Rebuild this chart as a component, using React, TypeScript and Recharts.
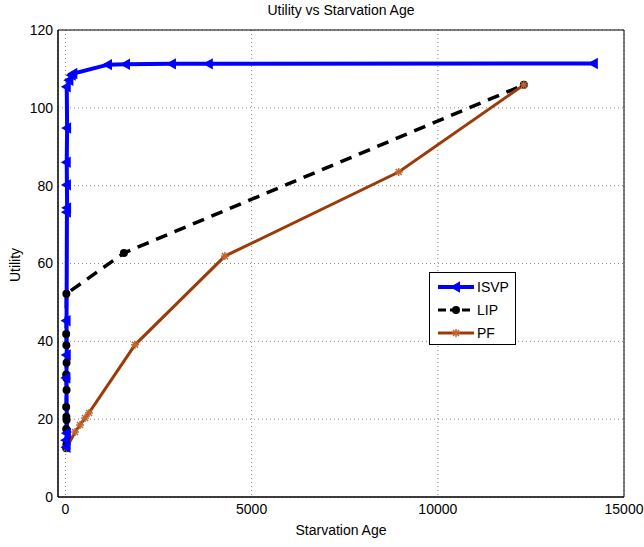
import React from 'react';
import {
  LineChart,
  Line,
  XAxis,
  YAxis,
  CartesianGrid,
  ReferenceArea,
} from 'recharts';

// Starvation age (x) and utility (y) for each scheduler
const isvpAge = [30, 20, 40, 25, 35, 30, 40, 45, 40, 35, 45, 35, 105, 168, 212, 1143, 1626, 2860, 3850, 14190];
const isvpUtility = [12.8, 14.6, 16.4, 30.6, 36.5, 45.3, 73.2, 74.3, 80.2, 86, 94.8, 105.4, 107.1, 108.4, 108.8, 111.1, 111.2, 111.3, 111.3, 111.4];

const lipAge = [20, 25, 20, 30, 25, 20, 30, 25, 20, 30, 25, 20, 25, 1570, 12310];
const lipUtility = [12.5, 13.5, 17.5, 19.8, 20.6, 23.1, 27.5, 30.6, 31.5, 34.5, 39, 41.9, 52.2, 62.7, 105.9];

const pfAge = [30, 258, 392, 526, 633, 1868, 4283, 8950, 12310];
const pfUtility = [12.6, 16.7, 18.5, 20.3, 21.6, 39.1, 61.9, 83.5, 105.9];

const xTicks = [0, 5000, 10000, 15000];
const yTicks = [0, 20, 40, 60, 80, 100, 120];

const toPoints = (xs: number[], ys: number[]) => xs.map((x, i) => ({ x, y: ys[i] }));

const isvpData = toPoints(isvpAge, isvpUtility);
const lipData = toPoints(lipAge, lipUtility);
const pfData = toPoints(pfAge, pfUtility);

const BLUE = '#0000ff';
const BROWN = '#9c3a08';
const FONT = "'Liberation Sans', Arial, sans-serif";

const TriangleDot = (props: any) => {
  const { cx, cy } = props;
  if (cx == null || cy == null) return null;
  return (
    <polygon
      key={`t-${cx}-${cy}`}
      points={`${cx - 4},${cy} ${cx + 3},${cy - 4} ${cx + 3},${cy + 4}`}
      fill={BLUE}
      stroke={BLUE}
      strokeWidth={2}
    />
  );
};

const CircleDot = (props: any) => {
  const { cx, cy } = props;
  if (cx == null || cy == null) return null;
  return <circle key={`c-${cx}-${cy}`} cx={cx} cy={cy} r={4} fill="#000" />;
};

const StarDot = (props: any) => {
  const { cx, cy } = props;
  if (cx == null || cy == null) return null;
  const s = 4;
  return (
    <g key={`s-${cx}-${cy}`} stroke="#c0632e" strokeWidth={1.5}>
      <line x1={cx - s} y1={cy} x2={cx + s} y2={cy} />
      <line x1={cx} y1={cy - s} x2={cx} y2={cy + s} />
      <line x1={cx - 3} y1={cy - 3} x2={cx + 3} y2={cy + 3} />
      <line x1={cx - 3} y1={cy + 3} x2={cx + 3} y2={cy - 3} />
    </g>
  );
};

const legendItems = [
  { name: 'ISVP', color: BLUE, dash: undefined, width: 4, marker: 'tri' },
  { name: 'LIP', color: '#000', dash: '8 4', width: 3, marker: 'circle' },
  { name: 'PF', color: BROWN, dash: undefined, width: 3, marker: 'star' },
];

const App: React.FC = () => {
  return (
    <div style={{ position: 'absolute', left: 0, top: 0, width: 644, height: 547, background: '#fff', fontFamily: FONT }}>
      <div style={{ position: 'absolute', left: 241, width: 200, top: 2, textAlign: 'center', fontSize: 14, color: '#000' }}>
        Utility vs Starvation Age
      </div>
      <div
        style={{
          position: 'absolute',
          left: 15,
          top: 265,
          fontSize: 14,
          color: '#000',
          transform: 'translate(-50%, -50%) rotate(-90deg)',
          whiteSpace: 'nowrap',
        }}
      >
        Utility
      </div>
      <div style={{ position: 'absolute', left: 241, width: 200, top: 522, textAlign: 'center', fontSize: 14, color: '#000' }}>
        Starvation Age
      </div>

      <LineChart width={644} height={547} margin={{ top: 30, right: 20, left: 0, bottom: 18 }}>
        <CartesianGrid stroke="#888" strokeDasharray="1 3" />
        <XAxis
          type="number"
          dataKey="x"
          domain={[-200, 15000]}
          ticks={xTicks}
          allowDataOverflow
          height={32}
          tickSize={0}
          tickMargin={7}
          stroke="#000"
          tick={{ fontSize: 14, fill: '#000', fontFamily: FONT }}
        />
        <YAxis
          type="number"
          domain={[0, 120]}
          ticks={yTicks}
          width={58}
          tickSize={0}
          tickMargin={5}
          stroke="#000"
          tick={{ fontSize: 14, fill: '#000', fontFamily: FONT }}
        />
        <ReferenceArea x1={-200} x2={15000} y1={0} y2={120} fill="none" stroke="#000" strokeWidth={1} />
        <Line
          data={lipData}
          dataKey="y"
          type="linear"
          stroke="#000"
          strokeWidth={3.5}
          strokeDasharray="12 8"
          dot={<CircleDot />}
          isAnimationActive={false}
        />
        <Line
          data={pfData}
          dataKey="y"
          type="linear"
          stroke={BROWN}
          strokeWidth={3}
          dot={<StarDot />}
          isAnimationActive={false}
        />
        <Line
          data={isvpData}
          dataKey="y"
          type="linear"
          stroke={BLUE}
          strokeWidth={4}
          dot={<TriangleDot />}
          isAnimationActive={false}
        />
      </LineChart>

      <div
        style={{
          position: 'absolute',
          left: 429,
          top: 272,
          width: 87,
          height: 73,
          border: '1px solid #000',
          background: '#fff',
          boxSizing: 'border-box',
        }}
      >
        {legendItems.map((item, i) => (
          <div key={item.name} style={{ position: 'absolute', left: 6, top: 5 + i * 23, height: 18, display: 'flex', alignItems: 'center' }}>
            <svg width={40} height={18}>
              <line x1={2} y1={9} x2={38} y2={9} stroke={item.color} strokeWidth={item.width} strokeDasharray={item.dash} />
              {item.marker === 'tri' && <TriangleDot cx={20} cy={9} />}
              {item.marker === 'circle' && <CircleDot cx={20} cy={9} />}
              {item.marker === 'star' && <StarDot cx={20} cy={9} />}
            </svg>
            <span style={{ fontSize: 14, color: '#000', marginLeft: 1 }}>{item.name}</span>
          </div>
        ))}
      </div>
    </div>
  );
};

export default App;
